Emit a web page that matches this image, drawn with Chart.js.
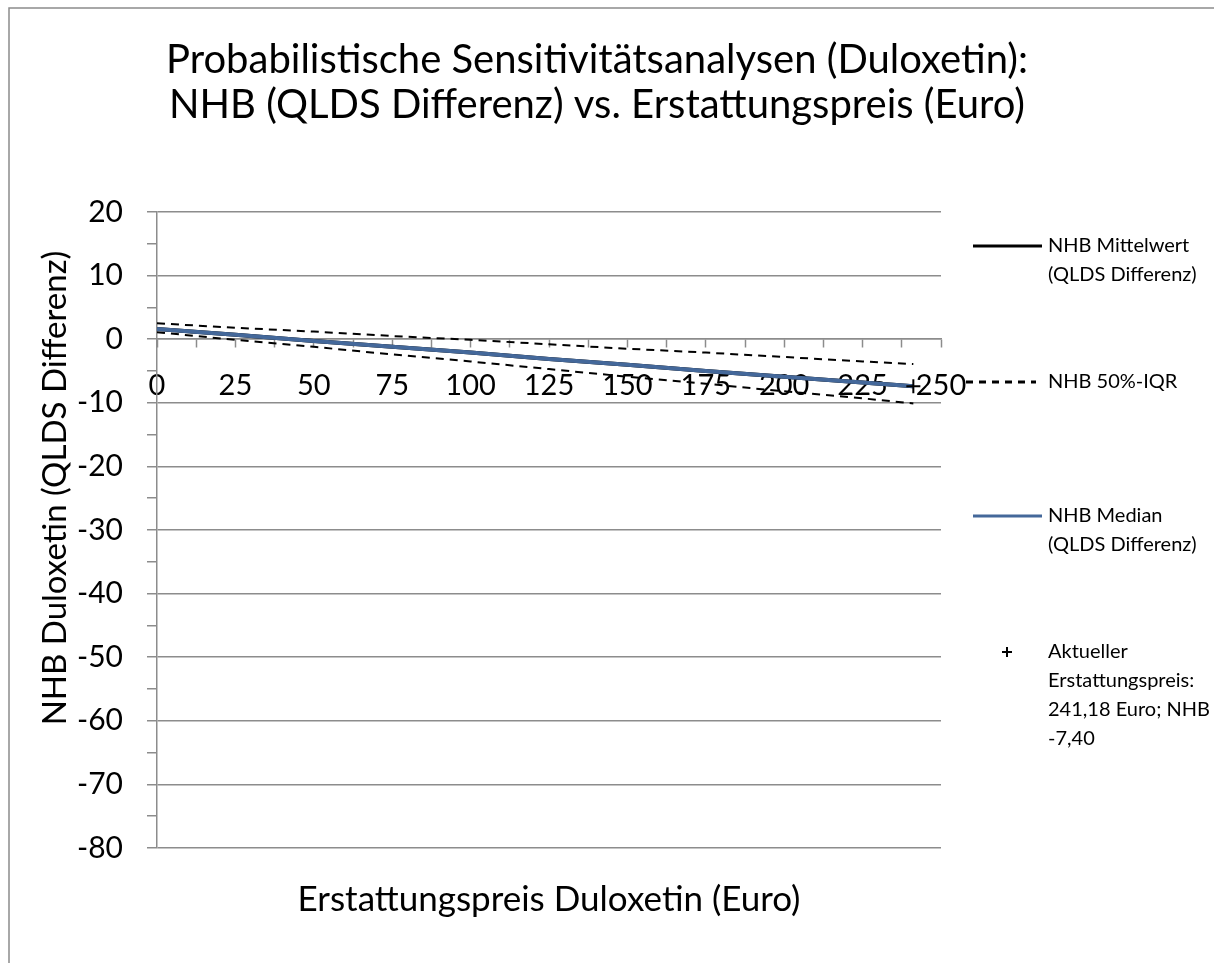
<!DOCTYPE html>
<html>
<head>
<meta charset="utf-8">
<script src="https://cdn.jsdelivr.net/npm/chart.js@4.4.0/dist/chart.umd.min.js"></script>
<style>
  html, body { margin: 0; padding: 0; background: #fff; }
  #wrap { position: relative; width: 1214px; height: 963px; }
</style>
</head>
<body>
<div id="wrap"><canvas id="myChart" width="1214" height="963"></canvas></div>
<script>
// Erstattungspreis (Euro)
const prices = [0, 25, 50, 75, 100, 125, 150, 175, 200, 225, 241.18];
// NHB values (QLDS Differenz)
const nhbMean   = [1.6, 0.7, -0.3, -1.2, -2.1, -3.1, -4.0, -5.0, -5.9, -6.8, -7.4];
const nhbMedian = [1.6, 0.7, -0.3, -1.2, -2.1, -3.1, -4.0, -5.0, -5.9, -6.8, -7.4];
const iqrUpper  = [2.5, 1.8, 1.2, 0.5, -0.1, -0.8, -1.5, -2.1, -2.8, -3.5, -3.9];
const iqrLower  = [1.1, -0.1, -1.2, -2.4, -3.5, -4.7, -5.9, -7.0, -8.2, -9.3, -10.1];
// current reimbursement price
const currentPrice = [241.18];
const currentNhb = [-7.40];

const FONT = 'Lato, Calibri, sans-serif';
const BLUE = '#44689A';
const GRID = '#8c8c8c';
const Y_TITLE = 'NHB Duloxetin (QLDS Differenz)';

const toPoints = (xs, ys) => xs.map((x, i) => ({ x: x, y: ys[i] }));

// Legend drawn to the right of the plot (multi-line labels like the original)
const sideLegend = {
    id: 'sideLegend',
    afterDraw(chart) {
        const ctx = chart.ctx;
        const items = [
            { kind: 'line', color: '#000', dash: [], x0: 973, x1: 1042, y: 246, lines: ['NHB Mittelwert', '(QLDS Differenz)'] },
            { kind: 'line', color: '#000', dash: [7, 6], x0: 966, x1: 1036, y: 382, lines: ['NHB 50%-IQR'] },
            { kind: 'line', color: BLUE, dash: [], x0: 973, x1: 1042, y: 516, lines: ['NHB Median', '(QLDS Differenz)'] },
            { kind: 'cross', x0: 1007, y: 652, lines: ['Aktueller', 'Erstattungspreis:', '241,18 Euro; NHB', '-7,40'] }
        ];
        ctx.save();
        items.forEach(it => {
            ctx.strokeStyle = it.color || '#000';
            ctx.setLineDash(it.dash || []);
            if (it.kind === 'line') {
                ctx.lineWidth = 3;
                ctx.beginPath();
                ctx.moveTo(it.x0, it.y);
                ctx.lineTo(it.x1, it.y);
                ctx.stroke();
            } else {
                ctx.lineWidth = 2;
                ctx.beginPath();
                ctx.moveTo(it.x0 - 5, it.y); ctx.lineTo(it.x0 + 5, it.y);
                ctx.moveTo(it.x0, it.y - 5); ctx.lineTo(it.x0, it.y + 5);
                ctx.stroke();
            }
            ctx.setLineDash([]);
            ctx.fillStyle = '#000';
            ctx.font = '20px ' + FONT;
            ctx.textBaseline = 'middle';
            ctx.textAlign = 'left';
            it.lines.forEach((t, i) => ctx.fillText(t, 1048, it.y + i * 29));
        });

        // y axis title (Excel places it a little above the plot centre)
        ctx.translate(55, 488);
        ctx.rotate(-Math.PI / 2);
        ctx.font = '33px ' + FONT;
        ctx.textAlign = 'center';
        ctx.fillText(Y_TITLE, 0, 0);
        ctx.restore();
    }
};

// grey frame around the chart object
const frame = {
    id: 'frame',
    beforeDraw(chart) {
        const ctx = chart.ctx;
        ctx.save();
        ctx.fillStyle = '#fff';
        ctx.fillRect(0, 0, chart.width, chart.height);
        ctx.strokeStyle = '#8c8c8c';
        ctx.lineWidth = 1.5;
        ctx.strokeRect(9, 8, chart.width + 20, chart.height + 20);
        ctx.restore();
    }
};

const ctx = document.getElementById('myChart').getContext('2d');
new Chart(ctx, {
    type: 'scatter',
    data: {
        datasets: [
            {
                label: 'Aktueller Erstattungspreis: 241,18 Euro; NHB -7,40',
                data: toPoints(currentPrice, currentNhb),
                pointStyle: 'cross',
                pointRadius: 7,
                borderColor: '#000',
                borderWidth: 2,
                order: 0
            },
            {
                label: 'NHB Median (QLDS Differenz)',
                data: toPoints(prices, nhbMedian),
                showLine: true,
                borderColor: BLUE,
                borderWidth: 4,
                pointRadius: 0,
                order: 1
            },
            {
                label: 'NHB Mittelwert (QLDS Differenz)',
                data: toPoints(prices, nhbMean),
                showLine: true,
                borderColor: '#000',
                borderWidth: 4,
                pointRadius: 0,
                order: 2
            },
            {
                label: 'NHB 50%-IQR',
                data: toPoints(prices, iqrUpper),
                showLine: true,
                borderColor: '#000',
                borderWidth: 2,
                borderDash: [8, 6],
                pointRadius: 0,
                order: 3
            },
            {
                label: 'NHB 50%-IQR (unten)',
                data: toPoints(prices, iqrLower),
                showLine: true,
                borderColor: '#000',
                borderWidth: 2,
                borderDash: [8, 6],
                pointRadius: 0,
                order: 3
            }
        ]
    },
    options: {
        responsive: false,
        animation: false,
        layout: { padding: { left: 0, right: 20, top: 0, bottom: 0 } },
        plugins: {
            legend: { display: false },
            tooltip: { enabled: false },
            title: {
                display: true,
                text: ['Probabilistische Sensitivitätsanalysen (Duloxetin):', 'NHB (QLDS Differenz) vs. Erstattungspreis (Euro)'],
                color: '#000',
                font: { family: FONT, size: 40, weight: 'normal', lineHeight: 1.125 },
                padding: { top: 37.5, bottom: 84.5 }
            }
        },
        scales: {
            x: {
                type: 'linear',
                position: { y: 0 },
                min: 0,
                max: 250,
                grid: { drawOnChartArea: false, drawTicks: true, tickLength: 8, color: GRID, tickColor: GRID, tickWidth: 1.5 },
                border: { color: GRID, width: 1.5 },
                ticks: {
                    stepSize: 12.5,
                    autoSkip: false,
                    maxRotation: 0,
                    padding: 21,
                    color: '#000',
                    font: { family: FONT, size: 29 },
                    callback: v => (v % 25 === 0 ? String(v) : '')
                }
            },
            x2: {
                type: 'linear',
                position: 'bottom',
                grid: { display: false, drawTicks: false },
                border: { display: false },
                ticks: { display: false },
                title: {
                    display: true,
                    text: 'Erstattungspreis Duloxetin (Euro)',
                    color: '#000',
                    font: { family: FONT, size: 35 },
                    padding: { top: 31, bottom: 42 }
                }
            },
            y: {
                type: 'linear',
                position: 'left',
                min: -80,
                max: 20,
                afterFit: s => { s.width = 157; },
                grid: {
                    color: c => (c.tick && c.tick.value % 10 === 0 ? GRID : 'rgba(0,0,0,0)'),
                    tickColor: GRID,
                    tickLength: 10,
                    lineWidth: 1.5,
                    tickWidth: 1.5
                },
                border: { color: GRID, width: 1.5 },
                ticks: {
                    stepSize: 5,
                    autoSkip: false,
                    padding: 24,
                    color: '#000',
                    font: { family: FONT, size: 30 },
                    callback: v => (v % 10 === 0 ? String(v) : '')
                }
            },
            y2: {
                type: 'linear',
                position: 'right',
                afterFit: s => { s.width = 253; },
                grid: { display: false, drawTicks: false },
                border: { display: false },
                ticks: { display: false }
            }
        }
    },
    plugins: [frame, sideLegend]
});
</script>
</body>
</html>
